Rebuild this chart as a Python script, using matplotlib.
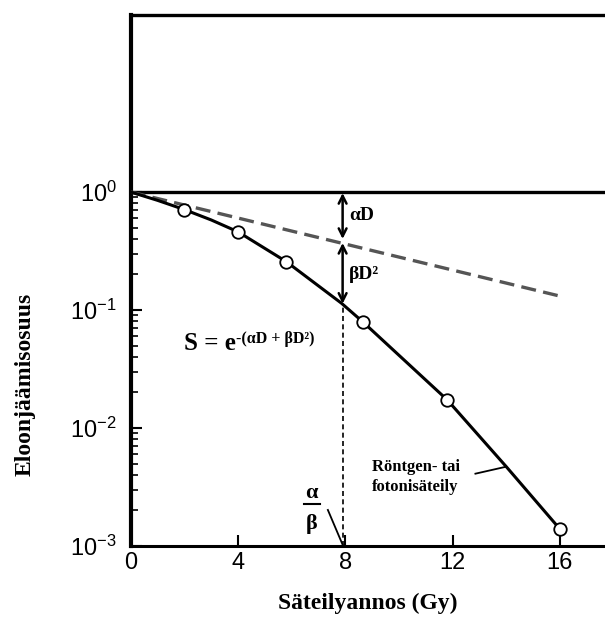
import numpy as np
import matplotlib
matplotlib.use('Agg')
import matplotlib.pyplot as plt
from matplotlib.ticker import FixedLocator, NullFormatter

# survival curve (dose Gy, surviving fraction)
curve_dose = [0, 1, 2, 3, 4, 5.8, 7.86, 8.67, 11.8, 14.0, 16.0]
curve_surv = [1.0, 0.85, 0.71, 0.58, 0.46, 0.257, 0.114, 0.0787, 0.0173, 0.0047, 0.00139]

# measured points (open circles)
pts_dose = [2.0, 4.0, 5.8, 8.67, 11.8, 16.0]
pts_surv = [0.71, 0.46, 0.257, 0.0787, 0.0173, 0.00139]

# alpha-only (linear) component, dashed
lin_dose = [0, 16.07]
lin_surv = [1.0, 0.13]

x_ticks = [0, 4, 8, 12, 16]
y_ticks = [1e-3, 1e-2, 1e-1, 1]
y_minor = [m * 10.0 ** e for e in (-3, -2, -1) for m in range(2, 10)]
d_ab = 7.9  # alpha/beta dose marker

plt.rcParams['mathtext.fontset'] = 'custom'
plt.rcParams['mathtext.rm'] = 'Liberation Sans'
plt.rcParams['mathtext.it'] = 'Liberation Sans'
plt.rcParams['mathtext.default'] = 'regular'

fig = plt.figure(figsize=(6.05, 6.21), dpi=100)
ax = fig.add_axes([0.216, 0.1208, 0.784, 0.855])

ax.set_yscale('log')
ax.set_xlim(0, 17.68)
ax.set_ylim(1e-3, 10 ** 1.5)

serif = 'Liberation Serif'

ax.axhline(1.0, color='black', lw=2.4, zorder=2)
ax.plot(lin_dose, lin_surv, color='#555555', lw=2.4, dashes=(4.5, 2.2), zorder=3)
ax.plot(curve_dose, curve_surv, color='black', lw=2.2, zorder=4)
ax.plot(pts_dose, pts_surv, 'o', ms=9, mfc='white', mec='black', mew=1.3, zorder=5)

# alpha/beta vertical marker
ax.plot([d_ab, d_ab], [1e-3, 0.112], color='black', lw=1.2, dashes=(3, 2), zorder=3)

# double arrows for alpha D and beta D^2
arr = dict(arrowstyle='<->', lw=1.8, color='black', mutation_scale=14, shrinkA=0, shrinkB=0)
ax.annotate('', xy=(d_ab, 0.98), xytext=(d_ab, 0.40), arrowprops=arr)
ax.annotate('', xy=(d_ab, 0.37), xytext=(d_ab, 0.113), arrowprops=arr)
ax.text(8.15, 0.63, 'αD', fontfamily=serif, fontweight='bold', fontsize=14, va='center')
ax.text(8.15, 0.2, 'βD²', fontfamily=serif, fontweight='bold', fontsize=14, va='center')

# formula
ax.text(2.0, 0.046, 'S = e', fontfamily=serif, fontweight='bold', fontsize=18, va='baseline')
ax.text(3.93, 0.053, '-(αD + βD²)', fontfamily=serif, fontweight='bold', fontsize=11.5, va='baseline')

# alpha / beta fraction
ax.text(6.75, 0.0028, 'α', fontfamily=serif, fontweight='bold', fontsize=16, ha='center', va='center')
ax.plot([6.45, 7.05], [0.00227, 0.00227], color='black', lw=1.5)
ax.text(6.75, 0.00155, 'β', fontfamily=serif, fontweight='bold', fontsize=16, ha='center', va='center')
ax.plot([7.35, 7.92], [0.00202, 0.001], color='black', lw=1.3)

# curve label
ax.text(8.98, 0.00385, 'Röntgen- tai\nfotonisäteily', fontfamily=serif, fontweight='bold',
        fontsize=12, va='center', linespacing=1.3)
ax.plot([12.85, 14.0], [0.0041, 0.0047], color='black', lw=1.3)

# ticks and spines
ax.set_xticks(x_ticks)
ax.set_yticks(y_ticks)
ax.yaxis.set_minor_locator(FixedLocator(y_minor))
ax.yaxis.set_minor_formatter(NullFormatter())
ax.tick_params(axis='both', which='major', direction='in', length=8, width=1.5, labelsize=17)
ax.tick_params(axis='x', which='major', pad=4)
ax.tick_params(axis='y', which='major', pad=10)
ax.tick_params(axis='y', which='minor', direction='in', length=5, width=1.2)
for lab in ax.get_xticklabels() + ax.get_yticklabels():
    lab.set_fontfamily('Liberation Sans')

ax.spines['left'].set_linewidth(3)
ax.spines['bottom'].set_linewidth(2.2)
ax.spines['top'].set_linewidth(2.4)
ax.spines['right'].set_visible(False)

ax.set_xlabel('Säteilyannos (Gy)', fontfamily=serif, fontweight='bold', fontsize=17, labelpad=14)
fig.text(25 / 605, 1 - 384 / 621, 'Eloonjäämisosuus', fontfamily=serif, fontweight='bold',
         fontsize=17, rotation=90, ha='center', va='center')

fig.savefig('out.png', dpi=100)
